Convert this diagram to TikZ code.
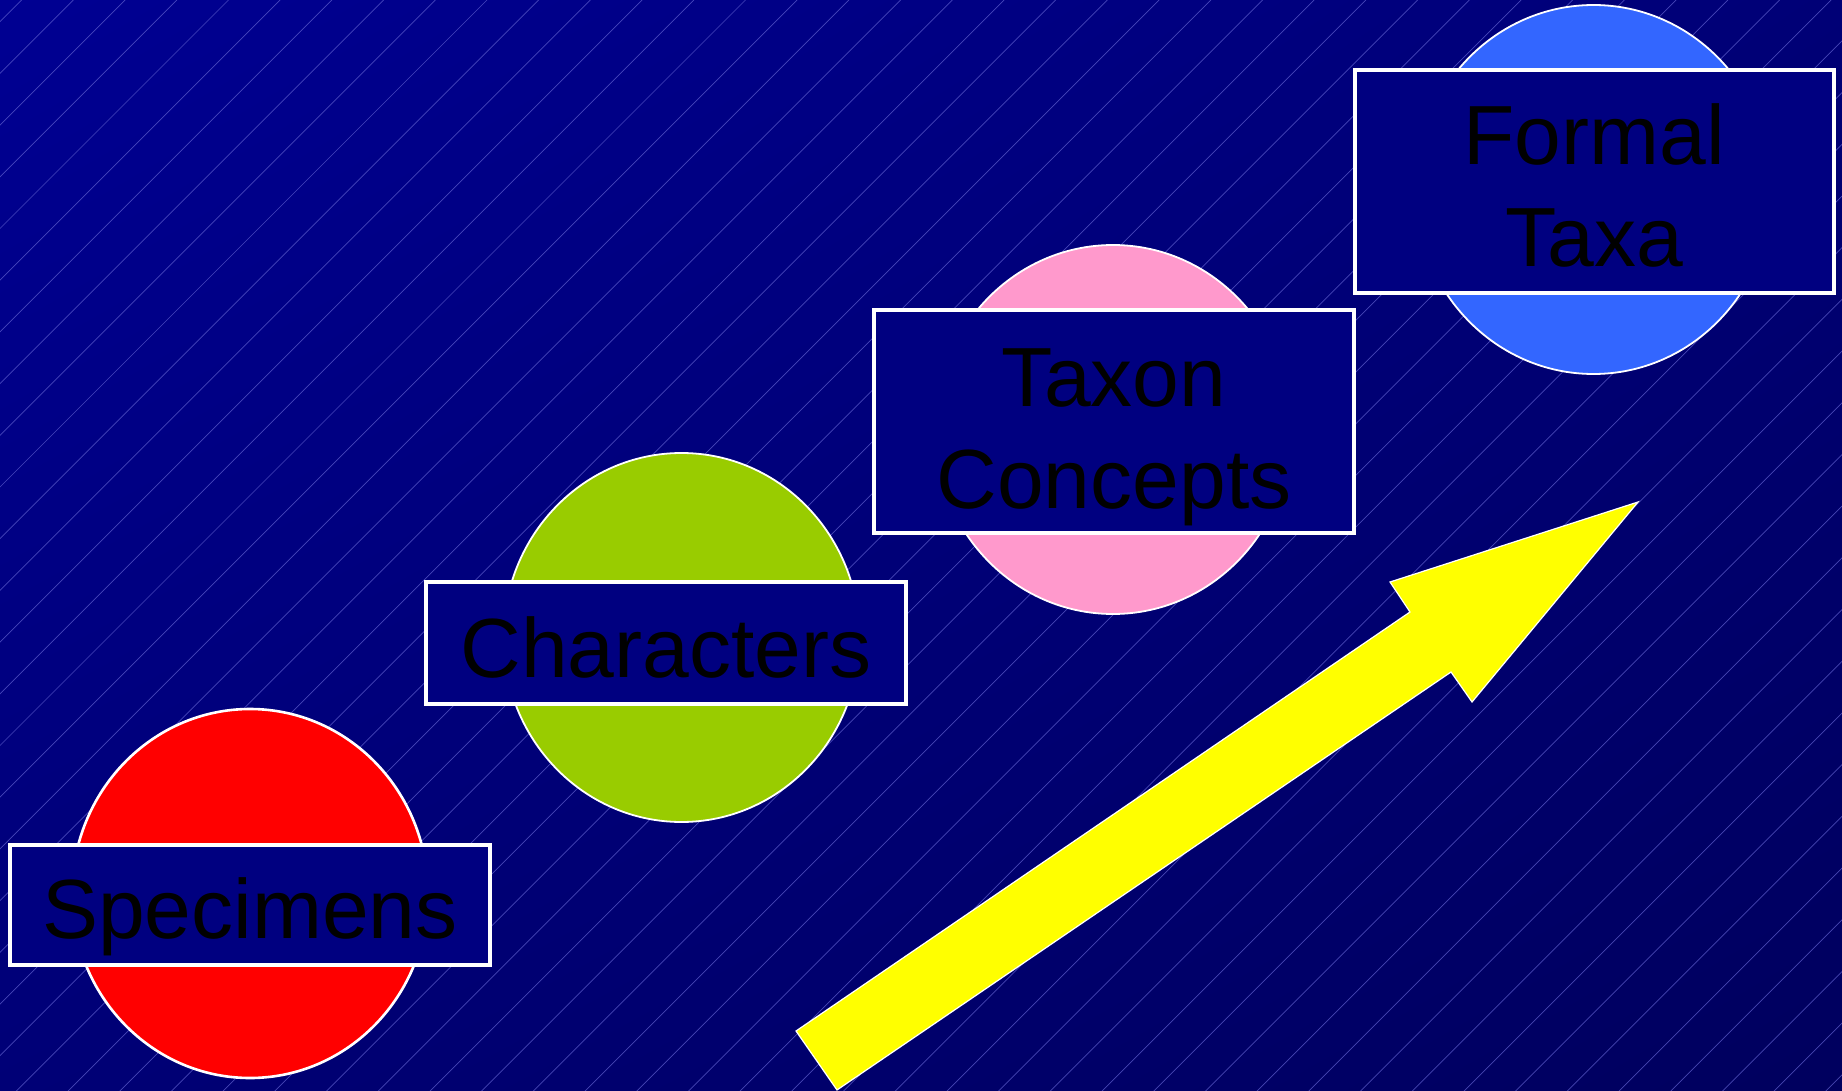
\documentclass[tikz,border=0pt]{standalone}
\usepackage{fontspec}
\setmainfont{Liberation Sans}
\usetikzlibrary{shapes.geometric,shadings}
\definecolor{bgTL}{RGB}{0,0,146}
\definecolor{bgMID}{RGB}{0,0,118}
\definecolor{bgBR}{RGB}{0,0,94}
\definecolor{stripe}{RGB}{100,100,210}
\definecolor{boxnavy}{RGB}{0,0,128}
\definecolor{cred}{RGB}{255,0,0}
\definecolor{cgreen}{RGB}{153,204,0}
\definecolor{cpink}{RGB}{255,153,204}
\definecolor{cblue}{RGB}{51,102,255}
\definecolor{cyellow}{RGB}{255,255,0}
\tikzset{
  bgline/.style={draw=stripe, line width=0.7pt, opacity=0.7},
  blob/.style={ellipse, draw=white, line width=1.8pt, inner sep=0pt, minimum width=356pt, minimum height=369pt},
  labelbox/.style={rectangle, draw=white, fill=boxnavy, line width=4pt, inner sep=0pt},
  lbl/.style={inner sep=0pt, anchor=base, text=black, font=\fontsize{84}{102}\selectfont},
  bigarrow/.style={fill=cyellow, draw=white, line width=1.2pt, line join=miter}
}
\begin{document}
\begin{tikzpicture}[x=1pt, y=-1pt]
\useasboundingbox (0,0) rectangle (1842,1091);
% background
\shade[upper left=bgTL, lower right=bgBR, upper right=bgMID, lower left=bgMID] (0,0) rectangle (1842,1091);
\begin{scope}
\clip (0,0) rectangle (1842,1091);
\foreach \k in {0,...,57} {
  \draw[bgline] ({21.7+51.7*\k},0) -- ++(-1100,1100);
}
\end{scope}
% circles
\node[blob, fill=cred, line width=2.6pt] (speccirc) at (250,893.5) {};
\node[blob, fill=cgreen] (charcirc) at (681.5,637.5) {};
\node[blob, fill=cpink] (taxcirc) at (1113,429.5) {};
\node[blob, fill=cblue] (formcirc) at (1593.5,189.5) {};
% boxes
\node[labelbox, minimum width=480pt, minimum height=120pt] (specbox) at (250,905) {};
\node[labelbox, minimum width=480pt, minimum height=122pt] (charbox) at (666,643) {};
\node[labelbox, minimum width=480pt, minimum height=223pt] (taxbox) at (1114,421.5) {};
\node[labelbox, minimum width=479pt, minimum height=223pt] (formbox) at (1594.5,181.5) {};
% texts
\node[lbl] (spectext) at (250,938) {Specimens};
\node[lbl] (chartext) at (666,677) {Characters};
\node[lbl] (taxtext1) at (1114,406) {Taxon};
\node[lbl] (taxtext2) at (1114,508) {Concepts};
\node[lbl] (formtext1) at (1594,165) {Formal};
\node[lbl] (formtext2) at (1594,267) {Taxa};
% arrow
\coordinate (aTailA) at (796,1031);
\coordinate (aShaftA) at (1410,612);
\coordinate (aBarbA) at (1390,582);
\coordinate (aTip) at (1638,502);
\coordinate (aBarbB) at (1472,702);
\coordinate (aShaftB) at (1451,672);
\coordinate (aTailB) at (837,1090);
\draw[bigarrow] (aTailA) -- (aShaftA) -- (aBarbA) -- (aTip) -- (aBarbB) -- (aShaftB) -- (aTailB) -- cycle;
\end{tikzpicture}
\end{document}
